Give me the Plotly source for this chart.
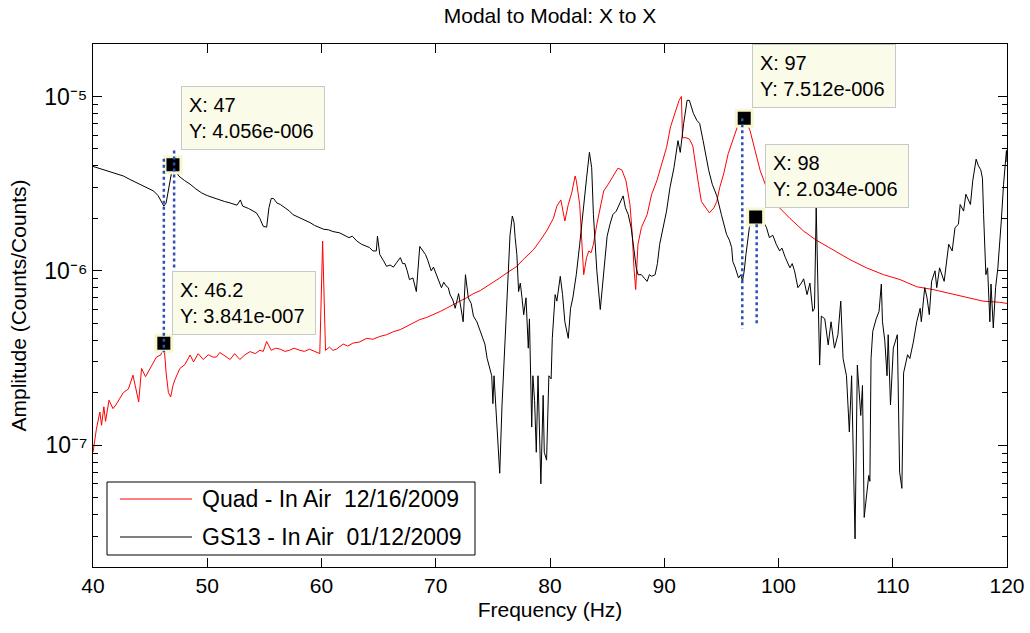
import numpy as np
import plotly.graph_objects as go

# ---------------- data ----------------
freq_quad = [40.0, 40.3, 40.6, 40.75, 40.95, 41.1, 41.4, 41.75, 42.0, 42.35, 42.65, 43.1, 43.5, 44.0,
             44.25, 44.6, 45.0, 45.3, 45.55, 45.95, 46.2, 46.4, 46.6, 46.8, 47.0, 47.2, 47.6, 48.05,
             48.5, 48.8, 49.2, 49.65, 50.1, 50.5, 50.8, 51.1, 51.4, 52.0, 52.4, 52.85, 53.3, 53.75,
             54.2, 54.6, 54.9, 55.2, 55.6, 56.0, 56.4, 56.8, 57.2, 57.6, 58.1, 58.5, 58.95, 59.4,
             59.85, 60.1, 60.35, 60.7, 61.0, 61.3, 61.9, 62.3, 62.75, 63.3, 63.95, 64.5, 65.1, 65.7,
             66.3, 66.9, 67.45, 68.0, 68.6, 69.2, 69.8, 70.4, 70.95, 71.5, 72.1, 72.7, 73.3, 73.9,
             74.45, 75.0, 75.6, 76.5, 77.1, 77.65, 78.1, 78.55, 79.1, 79.7, 80.3, 80.6, 80.95, 81.3,
             81.6, 81.9, 82.2, 82.3, 82.6, 82.75, 82.95, 83.2, 83.4, 83.6, 83.8, 84.1, 84.4, 84.7,
             85.1, 85.5, 85.95, 86.3, 86.65, 87.0, 87.2, 87.35, 87.5, 87.7, 88.0, 88.5, 88.9, 89.35,
             89.8, 90.2, 90.55, 90.95, 91.3, 91.5, 91.6, 91.9, 92.2, 92.5, 92.75, 93.0, 93.25, 93.55,
             93.95, 94.35, 94.6, 94.85, 95.2, 95.6, 96.05, 96.5, 97.0, 97.5, 97.95, 98.4, 98.95,
             99.8, 101.0, 102.2, 103.3, 104.8, 106.25, 107.7, 109.2, 110.65, 112.1, 113.55, 115.0,
             116.4, 117.9, 119.35, 120.0]
amp_quad = [0.91e-7, 1.24e-7, 1.55e-7, 1.3e-7, 1.66e-7, 1.37e-7, 1.81e-7, 1.62e-7, 1.7e-7, 1.85e-7,
            2.0e-7, 2.1e-7, 2.52e-7, 1.77e-7, 2.75e-7, 2.47e-7, 2.75e-7, 3.0e-7, 3.2e-7, 3.3e-7,
            3.841e-7, 2.6e-7, 2.0e-7, 1.89e-7, 2.2e-7, 2.4e-7, 2.75e-7, 2.9e-7, 3.29e-7, 3.0e-7,
            3.35e-7, 3.1e-7, 3.3e-7, 3.2e-7, 3.2e-7, 3.4e-7, 3.3e-7, 3.1e-7, 3.35e-7, 3.1e-7,
            3.3e-7, 3.44e-7, 3.35e-7, 3.5e-7, 3.45e-7, 3.93e-7, 3.5e-7, 3.6e-7, 3.55e-7, 3.45e-7,
            3.5e-7, 3.6e-7, 3.5e-7, 3.45e-7, 3.55e-7, 3.45e-7, 3.35e-7, 1.48e-6, 3.5e-7, 3.65e-7,
            3.5e-7, 3.55e-7, 3.8e-7, 3.7e-7, 3.85e-7, 3.9e-7, 4.1e-7, 4.05e-7, 4.2e-7, 4.3e-7,
            4.48e-7, 4.6e-7, 4.8e-7, 5.0e-7, 5.25e-7, 5.4e-7, 5.6e-7, 5.85e-7, 6.1e-7, 6.4e-7,
            6.7e-7, 7.0e-7, 7.4e-7, 7.7e-7, 8.1e-7, 8.6e-7, 9.1e-7, 1.0e-6, 1.06e-6, 1.16e-6,
            1.24e-6, 1.32e-6, 1.48e-6, 1.69e-6, 2.0e-6, 2.35e-6, 2.55e-6, 1.93e-6, 2.4e-6, 2.8e-6,
            3.5e-6, 3.3e-6, 2.4e-6, 1.55e-6, 0.95e-6, 1.19e-6, 1.3e-6, 1.27e-6, 1.42e-6, 1.85e-6,
            2.3e-6, 2.87e-6, 3.14e-6, 3.5e-6, 3.88e-6, 3.78e-6, 3.28e-6, 2.4e-6, 1.62e-6, 1.04e-6,
            0.78e-6, 1.42e-6, 1.77e-6, 2.1e-6, 2.75e-6, 3.28e-6, 4.1e-6, 5.1e-6, 6.7e-6, 8.0e-6,
            9.5e-6, 1.0e-5, 5.8e-6, 5.8e-6, 5.7e-6, 5.2e-6, 3.9e-6, 3.14e-6, 2.5e-6, 2.35e-6,
            2.15e-6, 2.3e-6, 2.5e-6, 3.0e-6, 3.6e-6, 4.7e-6, 5.8e-6, 7.0e-6, 7.512e-6, 6.4e-6,
            4.9e-6, 3.75e-6, 3.0e-6, 2.4e-6, 2.0e-6, 1.69e-6, 1.5e-6, 1.32e-6, 1.16e-6, 1.04e-6,
            9.5e-7, 8.9e-7, 8.1e-7, 7.8e-7, 7.4e-7, 7.1e-7, 6.7e-7, 6.6e-7, 6.5e-7]

freq_gs13 = [40.0, 41.0, 41.8, 42.65, 43.2, 43.8, 44.5, 45.3, 45.7, 46.0, 46.2, 46.4, 46.6, 46.8,
             47.0, 47.2, 47.5, 48.0, 48.5, 49.0, 49.5, 50.0, 50.5, 51.0, 51.5, 52.0, 52.6, 52.9,
             53.1, 53.6, 54.0, 54.3, 54.6, 54.9, 55.2, 55.4, 55.6, 55.8, 56.1, 56.4, 56.8, 57.2,
             57.5, 57.8, 58.2, 58.6, 59.0, 59.4, 59.8, 60.2, 60.6, 61.0, 61.6, 62.0, 62.4, 62.7,
             63.1, 63.5, 63.9, 64.2, 64.5, 64.8, 64.9, 65.1, 65.4, 65.7, 66.0, 66.3, 66.6, 66.9,
             67.1, 67.3, 67.5, 67.7, 68.0, 68.3, 68.6, 69.1, 69.3, 69.6, 69.8, 70.1, 70.3, 70.5,
             70.7, 70.9, 71.1, 71.25, 71.5, 71.7, 72.0, 72.2, 72.4, 72.6, 72.85, 73.1, 73.3, 73.6,
             74.0, 74.3, 74.5, 74.8, 74.9, 75.0, 75.1, 75.3, 75.6, 75.8, 76.1, 76.35, 76.5, 76.7,
             76.85, 76.95, 77.1, 77.25, 77.4, 77.55, 77.7, 77.9, 78.1, 78.2, 78.4, 78.5, 78.65,
             78.8, 78.95, 79.2, 79.4, 79.5, 79.7, 79.9, 80.1, 80.2, 80.45, 80.6, 80.9, 81.1, 81.3,
             81.6, 81.8, 82.0, 82.3, 82.6, 82.95, 83.2, 83.45, 83.65, 83.8, 83.95, 84.1, 84.4,
             84.6, 84.8, 85.0, 85.25, 85.5, 85.8, 86.1, 86.4, 86.6, 86.85, 87.1, 87.3, 87.55, 87.7,
             88.0, 88.3, 88.5, 88.7, 88.9, 89.2, 89.4, 89.6, 89.9, 90.2, 90.5, 90.85, 91.2, 91.4,
             91.7, 92.0, 92.2, 92.4, 92.55, 92.85, 93.1, 93.4, 93.6, 93.9, 94.2, 94.6, 95.0, 95.2,
             95.45, 95.7, 95.9, 96.0, 96.2, 96.5, 96.7, 96.85, 97.0, 97.15, 97.45, 97.7, 98.0,
             98.2, 98.5, 98.7, 98.95, 99.2, 99.5, 99.8, 100.1, 100.3, 100.6, 101.0, 101.2, 101.4,
             101.7, 102.0, 102.2, 102.5, 102.75, 103.0, 103.15, 103.3, 103.45, 103.6, 103.75,
             104.05, 104.35, 104.6, 104.9, 105.2, 105.45, 105.65, 105.95, 106.2, 106.4, 106.7,
             106.9, 107.2, 107.35, 107.5, 107.9, 108.0, 108.1, 108.25, 108.55, 108.8, 109.0, 109.1,
             109.3, 109.5, 109.6, 109.8, 110.05, 110.4, 110.6, 110.8, 110.95, 111.3, 111.5, 111.8,
             112.1, 112.4, 112.5, 112.8, 113.0, 113.2, 113.4, 113.7, 113.85, 114.1, 114.5, 114.9,
             115.2, 115.45, 115.75, 115.9, 116.2, 116.4, 116.8, 117.0, 117.3, 117.5, 117.7, 117.85,
             117.95, 118.15, 118.3, 118.5, 118.6, 118.8, 119.0, 119.2, 119.5, 119.7, 119.95, 120.0]
amp_gs13 = [3.97e-6, 3.8e-6, 3.65e-6, 3.5e-6, 3.35e-6, 3.2e-6, 3.05e-6, 2.87e-6, 2.7e-6, 2.5e-6,
            2.35e-6, 2.45e-6, 2.9e-6, 3.6e-6, 4.056e-6, 3.8e-6, 3.5e-6, 3.3e-6, 3.14e-6, 2.95e-6,
            2.8e-6, 2.7e-6, 2.63e-6, 2.55e-6, 2.5e-6, 2.45e-6, 2.38e-6, 2.55e-6, 2.35e-6, 2.28e-6,
            2.2e-6, 2.15e-6, 2.0e-6, 1.8e-6, 1.78e-6, 2.3e-6, 2.6e-6, 2.6e-6, 2.45e-6, 2.4e-6,
            2.3e-6, 2.2e-6, 2.1e-6, 2.06e-6, 2.0e-6, 1.95e-6, 1.89e-6, 1.82e-6, 1.78e-6, 1.73e-6,
            1.72e-6, 1.68e-6, 1.65e-6, 1.6e-6, 1.55e-6, 1.58e-6, 1.48e-6, 1.42e-6, 1.38e-6, 1.36e-6,
            1.3e-6, 1.3e-6, 1.58e-6, 1.24e-6, 1.15e-6, 1.06e-6, 1.08e-6, 1.05e-6, 1.12e-6, 1.19e-6,
            1.1e-6, 1.1e-6, 1.0e-6, 0.89e-6, 0.91e-6, 0.76e-6, 1.38e-6, 1.24e-6, 1.15e-6, 1.0e-6,
            1.05e-6, 0.93e-6, 0.88e-6, 0.8e-6, 0.86e-6, 0.82e-6, 0.8e-6, 0.73e-6, 0.68e-6, 0.61e-6,
            0.74e-6, 0.62e-6, 0.51e-6, 0.95e-6, 0.70e-6, 0.65e-6, 0.55e-6, 0.51e-6, 0.43e-6,
            0.38e-6, 0.314e-6, 0.27e-6, 0.25e-6, 0.173e-6, 0.25e-6, 0.149e-6, 0.069e-6, 0.17e-6,
            0.47e-6, 1.09e-6, 1.6e-6, 2.06e-6, 1.9e-6, 1.55e-6, 1.24e-6, 0.76e-6, 0.85e-6, 0.7e-6,
            0.56e-6, 0.70e-6, 0.36e-6, 0.53e-6, 0.127e-6, 0.25e-6, 0.18e-6, 0.091e-6, 0.25e-6,
            0.060e-6, 0.193e-6, 0.091e-6, 0.082e-6, 0.25e-6, 0.24e-6, 0.41e-6, 0.73e-6, 0.67e-6,
            0.93e-6, 0.73e-6, 0.51e-6, 0.41e-6, 0.61e-6, 0.70e-6, 0.95e-6, 1.42e-6, 2.5e-6, 3.4e-6,
            4.78e-6, 3.9e-6, 2.1e-6, 1.35e-6, 1.0e-6, 0.60e-6, 0.82e-6, 1.24e-6, 1.58e-6, 1.85e-6,
            2.1e-6, 2.2e-6, 2.46e-6, 2.69e-6, 2.3e-6, 2.1e-6, 1.77e-6, 1.42e-6, 1.04e-6, 0.95e-6,
            0.95e-6, 0.90e-6, 0.87e-6, 0.95e-6, 0.93e-6, 0.95e-6, 1.1e-6, 1.42e-6, 1.77e-6, 2.2e-6,
            3.0e-6, 3.9e-6, 5.58e-6, 4.78e-6, 7.0e-6, 9.5e-6, 9.5e-6, 8.7e-6, 8.0e-6, 7.3e-6,
            7.0e-6, 5.58e-6, 4.7e-6, 3.75e-6, 3.14e-6, 2.69e-6, 2.1e-6, 1.9e-6, 1.62e-6, 1.5e-6,
            1.36e-6, 1.13e-6, 1.05e-6, 0.91e-6, 0.95e-6, 0.87e-6, 1.0e-6, 1.24e-6, 1.77e-6, 1.95e-6,
            2.034e-6, 1.95e-6, 1.85e-6, 1.9e-6, 1.77e-6, 1.55e-6, 1.6e-6, 1.42e-6, 1.3e-6, 1.35e-6,
            1.19e-6, 1.04e-6, 1.1e-6, 1.0e-6, 0.80e-6, 0.85e-6, 0.9e-6, 0.73e-6, 0.85e-6, 0.585e-6,
            0.61e-6, 2.3e-6, 0.73e-6, 0.288e-6, 0.55e-6, 0.53e-6, 0.376e-6, 0.51e-6, 0.36e-6,
            0.43e-6, 0.67e-6, 0.314e-6, 0.25e-6, 0.119e-6, 0.25e-6, 0.029e-6, 0.288e-6, 0.148e-6,
            0.22e-6, 0.0385e-6, 0.067e-6, 0.062e-6, 0.314e-6, 0.45e-6, 0.53e-6, 0.585e-6, 0.84e-6,
            0.51e-6, 0.4e-6, 0.25e-6, 0.43e-6, 0.17e-6, 0.36e-6, 0.43e-6, 0.070e-6, 0.0565e-6,
            0.26e-6, 0.33e-6, 0.314e-6, 0.39e-6, 0.51e-6, 0.61e-6, 0.51e-6, 0.80e-6, 0.7e-6,
            0.56e-6, 0.87e-6, 1.0e-6, 0.80e-6, 1.04e-6, 0.87e-6, 1.42e-6, 1.3e-6, 1.77e-6, 1.85e-6,
            2.4e-6, 2.2e-6, 2.75e-6, 2.4e-6, 3.28e-6, 4.37e-6, 4.0e-6, 3.8e-6, 3.4e-6, 2.1e-6,
            0.95e-6, 1.04e-6, 0.51e-6, 0.84e-6, 0.47e-6, 0.80e-6, 1.04e-6, 1.93e-6, 3.14e-6,
            4.9e-6, 4.2e-6]

series_names = ["Quad - In Air\u00a0\u00a012/16/2009", "GS13 - In Air\u00a0\u00a001/12/2009"]

# data tips (MATLAB data cursors)
tip_freq = [47, 46.2, 97, 98]
tip_amp = [4.056e-6, 3.841e-7, 7.512e-6, 2.034e-6]
tip_text = ["X: 47<br>Y: 4.056e-006", "X: 46.2<br>Y: 3.841e-007",
            "X: 97<br>Y: 7.512e-006", "X: 98<br>Y: 2.034e-006"]

# dotted cursor guide lines
guide_freq = [46.2, 47.1, 96.83, 98.09]
guide_top = [4.4e-6, 4.9e-6, 7.5e-6, 1.85e-6]
guide_bottom = [3.4e-7, 1.03e-6, 4.67e-7, 4.9e-7]

x_ticks = [40, 50, 60, 70, 80, 90, 100, 110, 120]
y_ticks = [1e-7, 1e-6, 1e-5]
y_tick_text = ["10\u207b\u2077", "10\u207b\u2076", "10\u207b\u2075"]

FONT = "Liberation Sans, Arial, Helvetica, sans-serif"

fig = go.Figure()
fig.add_trace(go.Scatter(x=freq_quad, y=amp_quad, mode="lines", name=series_names[0],
                         line=dict(color="#ff0000", width=1), showlegend=False))
fig.add_trace(go.Scatter(x=freq_gs13, y=amp_gs13, mode="lines", name=series_names[1],
                         line=dict(color="#000000", width=1), showlegend=False))

fig.add_trace(go.Scatter(x=tip_freq, y=tip_amp, mode="markers", showlegend=False,
                         marker=dict(symbol="square", size=16, color="black",
                                     line=dict(color="#f6f6cf", width=3))))

for gx, gt, gb in zip(guide_freq, guide_top, guide_bottom):
    fig.add_trace(go.Scatter(x=[gx, gx], y=[gt, gb], mode="lines", showlegend=False,
                             line=dict(color="#2f4fb5", width=2.5, dash="dot")))

# data tip boxes
shifts = [(8, 15), (8, 8), (8, 10), (9, 9)]
for fx, av, txt, (sx, sy) in zip(tip_freq, tip_amp, tip_text, shifts):
    fig.add_annotation(x=fx, y=np.log10(av), xref="x", yref="y", text=txt, showarrow=False,
                       xanchor="left", yanchor="bottom", xshift=sx, yshift=sy, align="left",
                       width=128, height=48, borderpad=7, bgcolor="#fbfbea",
                       bordercolor="#c8c8c8", borderwidth=1,
                       font=dict(family=FONT, size=20, color="black"))

# legend (MATLAB-style box)
L, R, T, B = 93, 1007, 44, 567
def px(x):
    return (x - L) / (R - L)
def py(y):
    return (B - y) / (B - T)

fig.add_shape(type="rect", xref="paper", yref="paper", x0=px(107), x1=px(475), y0=py(555), y1=py(482),
              line=dict(color="black", width=1), fillcolor="white", layer="above")
for name, color, ypix in zip(series_names, ["#ff0000", "#000000"], [499, 537]):
    fig.add_shape(type="line", xref="paper", yref="paper", x0=px(120), x1=px(192), y0=py(ypix), y1=py(ypix),
                  line=dict(color=color, width=1), layer="above")
    fig.add_annotation(x=px(200), y=py(ypix), xref="paper", yref="paper", text=name, showarrow=False,
                       xanchor="left", yanchor="middle", font=dict(family=FONT, size=23, color="black"))

fig.update_layout(
    width=1030, height=633,
    margin=dict(l=L, r=1030 - R, t=T, b=633 - B, autoexpand=False),
    paper_bgcolor="white", plot_bgcolor="white",
    font=dict(family=FONT, size=20, color="black"),
    title=dict(text="Modal to Modal: X to X", x=0.5, xref="paper", y=1 - 16 / 633, yanchor="middle",
               font=dict(family=FONT, size=21, color="black")),
    showlegend=False,
)
fig.update_xaxes(range=[40, 120], tickvals=x_ticks, ticks="inside", ticklen=9, tickcolor="black",
                 showline=True, linecolor="black", linewidth=1, mirror="ticks", showgrid=False,
                 zeroline=False, automargin=False, tickfont=dict(family=FONT, size=21),
                 title=dict(text="Frequency (Hz)", standoff=6, font=dict(family=FONT, size=21)))
fig.update_yaxes(type="log", range=[np.log10(2e-8), np.log10(2e-5)], tickvals=y_ticks,
                 ticktext=y_tick_text,
                 ticks="inside", ticklen=9, tickcolor="black", showline=True, linecolor="black",
                 linewidth=1, mirror="ticks", showgrid=False, zeroline=False, automargin=False,
                 minor=dict(ticks="inside", ticklen=5, tickcolor="black", showgrid=False, dtick="D1"),
                 tickfont=dict(family=FONT, size=23),
                 title=dict(text="Amplitude (Counts/Counts)", standoff=11, font=dict(family=FONT, size=21)))

fig.write_html("out.html")
